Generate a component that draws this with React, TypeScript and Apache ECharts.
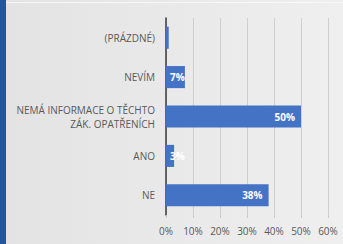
import React, { useEffect, useRef } from "react";
import * as echarts from "echarts";

const categories = ["NE", "ANO", "NEMÁ INFORMACE O TĚCHTO\nZÁK. OPATŘENÍCH", "NEVÍM", "(PRÁZDNÉ)"];
const values = [38, 3, 50, 7, 1];
const showLabel = [true, true, true, true, false];
const xTicks = [0, 10, 20, 30, 40, 50, 60];

export default function App() {
  const ref = useRef<HTMLDivElement>(null);
  useEffect(() => {
    const chart = echarts.init(ref.current!, null, { renderer: "svg" });
    chart.setOption({
      animation: false,
      backgroundColor: {
        type: "linear", x: 0, y: 0, x2: 1, y2: 0,
        colorStops: [{ offset: 0, color: "#e3e3e3" }, { offset: 1, color: "#efefef" }],
      },
      textStyle: { fontFamily: "Open Sans" },
      graphic: [
        { type: "rect", left: 0, top: 0, shape: { width: 6, height: 244 }, style: { fill: "#1f57a0" } },
        { type: "rect", left: 6, top: 2, shape: { width: 337, height: 1 }, style: { fill: "#f7f7f7" } },
      ],
      grid: { left: 166, right: 15, top: 18, bottom: 29 },
      xAxis: {
        type: "value",
        min: xTicks[0],
        max: xTicks[xTicks.length - 1],
        interval: 10,
        axisLine: { show: false },
        axisTick: { show: true, length: 3, lineStyle: { color: "#c8c8c8" } },
        splitLine: { show: true, lineStyle: { color: "#cfcfcf", width: 1 } },
        axisLabel: { formatter: "{value}%", color: "#595959", fontSize: 10, margin: 11 },
      },
      yAxis: {
        type: "category",
        data: categories,
        axisLine: { show: true, lineStyle: { color: "#3a3a3a", width: 1.5 } },
        axisTick: { show: false },
        axisLabel: { color: "#595959", fontSize: 10, margin: 11, lineHeight: 14, align: "right" },
      },
      series: [
        {
          type: "bar",
          barCategoryGap: "44%",
          itemStyle: { color: "#4472c4" },
          data: values.map((v, i) => ({
            value: v,
            label: {
              show: showLabel[i],
              position: v < 10 ? "insideLeft" : "insideRight",
              distance: v < 10 ? 4 : 6,
            },
          })),
          label: {
            formatter: "{c}%",
            color: "#ffffff",
            fontWeight: "bold",
            fontSize: 10,
          },
        },
      ],
    });
    return () => chart.dispose();
  }, []);
  return <div ref={ref} style={{ width: 343, height: 244, position: "absolute", left: 0, top: 0 }} />;
}
